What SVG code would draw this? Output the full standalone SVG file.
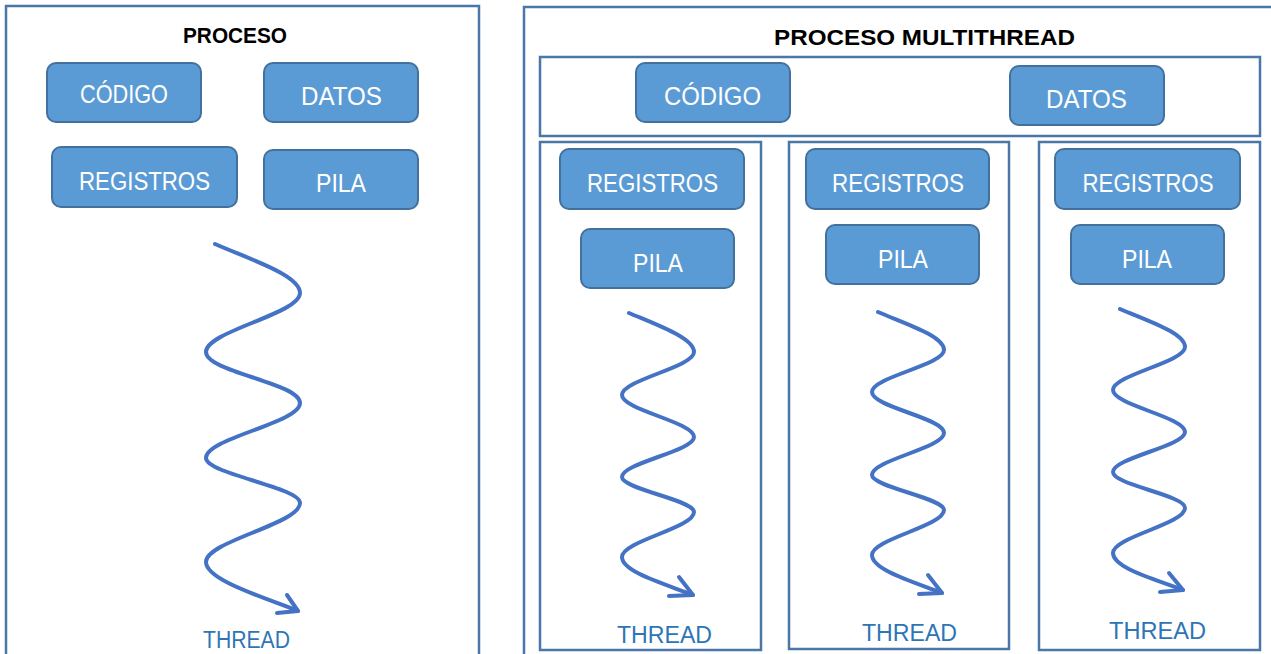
<svg xmlns="http://www.w3.org/2000/svg" width="1271" height="654" viewBox="0 0 1271 654">
<style>
.frame{fill:none;stroke:#4A76A8;stroke-width:2.5}
.box{fill:#5B9BD5;stroke:#41719C;stroke-width:2}
.lbl{font-family:"Liberation Sans",Arial,sans-serif;font-size:25px;fill:#FFFFFF;text-anchor:middle}
.title{font-family:"Liberation Sans",Arial,sans-serif;font-size:22px;font-weight:bold;fill:#000000;text-anchor:middle}
.thr{font-family:"Liberation Sans",Arial,sans-serif;font-size:23px;fill:#2E75B6;text-anchor:middle}
.wave{fill:none;stroke:#4472C4;stroke-width:4;stroke-linecap:round;stroke-linejoin:round}
</style>
<rect width="1271" height="654" fill="#FFFFFF"/>

<g id="proceso">
<rect class="frame" x="6" y="6" width="473" height="700"/>
<text class="title" x="235" y="43" textLength="104" lengthAdjust="spacingAndGlyphs">PROCESO</text>
</g>
<g id="p-codigo"><rect class="box" x="47" y="63" width="154" height="59" rx="9"/><text class="lbl" x="124" y="103" textLength="88" lengthAdjust="spacingAndGlyphs">CÓDIGO</text></g>
<g id="p-datos"><rect class="box" x="264" y="63" width="154" height="59" rx="9"/><text class="lbl" x="341.5" y="105" textLength="81" lengthAdjust="spacingAndGlyphs">DATOS</text></g>
<g id="p-registros"><rect class="box" x="52" y="147" width="185" height="60" rx="9"/><text class="lbl" x="144.5" y="190" textLength="131" lengthAdjust="spacingAndGlyphs">REGISTROS</text></g>
<g id="p-pila"><rect class="box" x="264" y="150" width="154" height="59" rx="9"/><text class="lbl" x="341" y="192" textLength="50" lengthAdjust="spacingAndGlyphs">PILA</text></g>
<g id="p-thread"><text class="thr" x="246.5" y="648" textLength="87" lengthAdjust="spacingAndGlyphs">THREAD</text></g>

<g id="multithread">
<rect class="frame" x="524" y="7" width="800" height="700"/>
<text class="title" x="924.5" y="45" textLength="301" lengthAdjust="spacingAndGlyphs">PROCESO MULTITHREAD</text>
</g>
<g id="shared"><rect class="frame" x="540" y="57" width="720" height="79"/></g>
<g id="m-codigo"><rect class="box" x="636" y="63" width="154" height="59" rx="9"/><text class="lbl" x="712.5" y="105" textLength="97" lengthAdjust="spacingAndGlyphs">CÓDIGO</text></g>
<g id="m-datos"><rect class="box" x="1010" y="66" width="154" height="59" rx="9"/><text class="lbl" x="1086.5" y="108" textLength="81" lengthAdjust="spacingAndGlyphs">DATOS</text></g>

<g id="thread1">
<rect class="frame" x="540" y="142" width="221" height="508"/>
<rect class="box" x="560" y="149" width="184" height="60" rx="9"/><text class="lbl" x="652.5" y="192" textLength="131" lengthAdjust="spacingAndGlyphs">REGISTROS</text>
<rect class="box" x="581" y="229" width="153" height="59" rx="9"/><text class="lbl" x="658" y="272" textLength="50" lengthAdjust="spacingAndGlyphs">PILA</text>
<text class="thr" x="664.5" y="643" textLength="95" lengthAdjust="spacingAndGlyphs">THREAD</text>
</g>
<g id="thread2">
<rect class="frame" x="789" y="142" width="220" height="507"/>
<rect class="box" x="806" y="149" width="183" height="60" rx="9"/><text class="lbl" x="898" y="192" textLength="132" lengthAdjust="spacingAndGlyphs">REGISTROS</text>
<rect class="box" x="826" y="225" width="153" height="59" rx="9"/><text class="lbl" x="903" y="268" textLength="50" lengthAdjust="spacingAndGlyphs">PILA</text>
<text class="thr" x="909.5" y="641" textLength="95" lengthAdjust="spacingAndGlyphs">THREAD</text>
</g>
<g id="thread3">
<rect class="frame" x="1039" y="142" width="221" height="508"/>
<rect class="box" x="1055" y="149" width="185" height="60" rx="9"/><text class="lbl" x="1148" y="192" textLength="131" lengthAdjust="spacingAndGlyphs">REGISTROS</text>
<rect class="box" x="1071" y="225" width="153" height="59" rx="9"/><text class="lbl" x="1147" y="268" textLength="50" lengthAdjust="spacingAndGlyphs">PILA</text>
<text class="thr" x="1157.5" y="639" textLength="97" lengthAdjust="spacingAndGlyphs">THREAD</text>
</g>

<g id="connectors">
<path class="wave" d="M215,244 C249,259 300,275 300,293 C300,314 206,331 206,352 C206,372 300,383 300,403 C300,423 206,438 206,458 C206,474 300,487 300,503 C300,524 206,541 206,562 C206,580 263,597 298,611"/>
<path class="wave" d="M277,613 L298,611 L287,595"/>
<path class="wave" d="M629,313 C657,325 694,338 694,352 C694,367 622,380 622,395 C622,410 694,422 694,437 C694,451 622,463 622,477 C622,489 694,500 694,512 C694,528 622,541 622,557 C622,572 665,584 693,595"/>
<path class="wave" d="M669,596 L693,595 L679,577"/>
<path class="wave" d="M878,312 C906,324 944,336 944,350 C944,365 872,377 872,392 C872,407 944,418 944,433 C944,448 872,460 872,475 C872,487 944,498 944,510 C944,526 872,539 872,555 C872,570 914,582 942,593"/>
<path class="wave" d="M919,594 L942,593 L928,575"/>
<path class="wave" d="M1120,309 C1148,321 1185,333 1185,347 C1185,362 1113,375 1113,390 C1113,405 1185,417 1185,432 C1185,446 1113,458 1113,472 C1113,485 1185,495 1185,508 C1185,524 1113,537 1113,553 C1113,568 1155,579 1183,590"/>
<path class="wave" d="M1160,592 L1183,590 L1169,573"/>
</g>
</svg>
